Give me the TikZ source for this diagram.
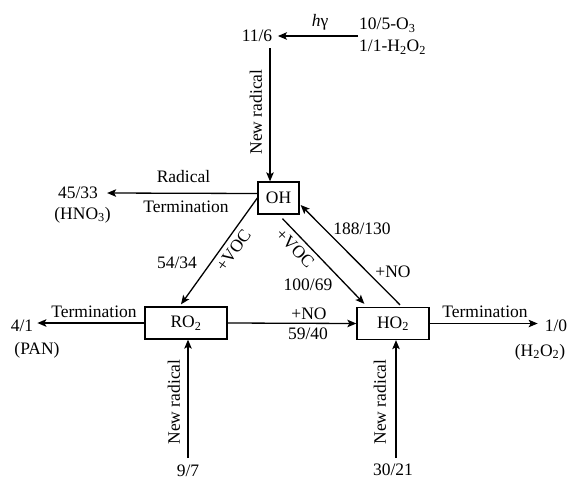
\documentclass[tikz,border=0pt]{standalone}
\usepackage{fontspec}
\setmainfont{Liberation Serif}
\usetikzlibrary{arrows.meta}

\begin{document}
\begin{tikzpicture}[x=1pt,y=-1pt,
  every node/.style={font=\fontsize{17.5}{22}\selectfont, inner sep=1pt},
  species/.style={draw, line width=1.3pt, minimum height=32pt, inner sep=0pt},
  flow/.style={line width=1.3pt, -{Stealth[length=9pt,width=7.5pt,inset=2pt]}},
  upright/.style={rotate=90}]
\useasboundingbox (0,0) rectangle (580,479);

% radical species
\node[species, minimum width=41pt] (OH)  at (278.5,198) {OH};
\node[species, minimum width=82pt] (RO2) at (186,323)   {RO\textsubscript{2}};
\node[species, minimum width=72pt] (HO2) at (393,323.5) {HO\textsubscript{2}};

% photolysis source of OH
\node (n116) at (257,36) {11/6};
\node[align=left, anchor=west] (src) at (358,36) {10/5-O\textsubscript{3}\\1/1-H\textsubscript{2}O\textsubscript{2}};
\node (hg) at (320,22) {\textit{h}γ};
\draw[flow] (src.west) -- ([xshift=4.5pt]n116.east |- src.west);
\coordinate (ohin) at (270,48);
\draw[flow] (ohin) -- (ohin |- OH.north);
\node[upright] (nr1) at (256,112) {New radical};

% OH termination
\node (n4533) at (78,193) {45/33};
\node (hno3) at (82.5,215) {(HNO\textsubscript{3})};
\node (rad) at (183.5,177) {Radical};
\node (term1) at (186,207) {Termination};
\draw[flow] ([yshift=4.5pt]OH.west) -- ([xshift=8pt]n4533.east |- 0,193);

% OH + VOC
\draw[flow] (OH.west) -- ([xshift=-5pt,yshift=2pt]RO2.north);
\node[rotate=54] (voc1) at (233.5,250.5) {+VOC};
\node (n5434) at (177,263) {54/34};
\draw[flow] ([xshift=4pt,yshift=-4pt]OH.south) -- ([xshift=8pt,yshift=3pt]HO2.north west);
\node[rotate=-46] (voc2) at (295,248) {+VOC};
\node (n10069) at (308,285) {100/69};

% HO2 + NO back to OH
\draw[flow] ([xshift=7pt,yshift=2pt]HO2.north) -- ([xshift=1pt,yshift=-7pt]OH.east);
\node (n188) at (362,229) {188/130};
\node (no1) at (393,272) {+NO};

% RO2 + NO to HO2
\draw[flow] (RO2.east) -- (HO2.west);
\node (no2) at (309,314) {+NO};
\node (n5940) at (308,334) {59/40};

% RO2 termination and source
\node (n41) at (22,326) {4/1};
\node (pan) at (37,350) {(PAN)};
\node (term2) at (94,312) {Termination};
\draw[flow] (RO2.west) -- ([xshift=3pt]n41.east |- RO2.west);
\node (n97) at (188,471) {9/7};
\coordinate (roin) at (188,458);
\draw[flow] (roin) -- (roin |- RO2.south);
\node[upright] (nr2) at (174,402) {New radical};

% HO2 termination and source
\node (n10) at (556,326) {1/0};
\node (h2o2) at (540,352) {(H\textsubscript{2}O\textsubscript{2})};
\node (term3) at (485,312) {Termination};
\draw[flow] (HO2.east) -- ([xshift=-6pt]n10.west |- HO2.east);
\node (n3021) at (393,470) {30/21};
\coordinate (hoin) at (396,458);
\draw[flow] (hoin) -- (hoin |- HO2.south);
\node[upright] (nr3) at (380,402) {New radical};
\end{tikzpicture}
\end{document}
